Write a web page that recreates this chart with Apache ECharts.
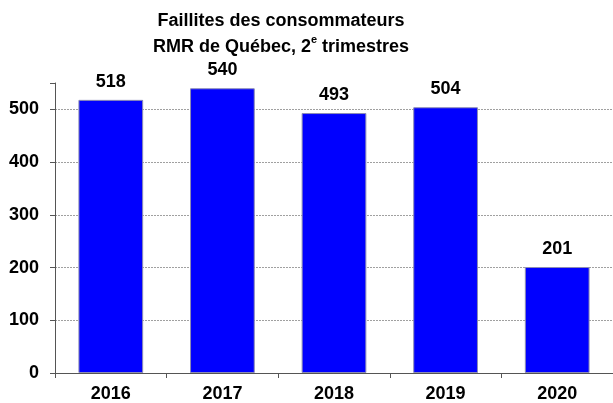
<!DOCTYPE html>
<html>
<head>
<meta charset="utf-8">
<script src="https://cdn.jsdelivr.net/npm/echarts@6/dist/echarts.min.js"></script>
<style>
html,body{margin:0;padding:0;background:#fff;}
#main{width:613px;height:403px;}
</style>
</head>
<body>
<div id="main"></div>
<script>
var years = ['2016', '2017', '2018', '2019', '2020'];
var faillites = [518, 540, 493, 504, 201];
var yTicks = [0, 100, 200, 300, 400, 500];

var chart = echarts.init(document.getElementById('main'));
var font = 'Liberation Sans, Arial, sans-serif';

var option = {
	animation: false,
	title: {
		text: 'Faillites des consommateurs\nRMR de Québec, 2{sup|e} trimestres',
		left: 276,
		top: 3,
		textAlign: 'center',
		textStyle: {
			fontFamily: font,
			fontSize: 18,
			fontWeight: 'bold',
			color: '#000',
			lineHeight: 26,
			rich: {
				sup: {fontFamily: font, fontSize: 11, fontWeight: 'bold', color: '#000', verticalAlign: 'top', lineHeight: 17}
			}
		}
	},
	grid: {left: 55, top: 83, width: 561, bottom: 30, containLabel: false},
	xAxis: {
		type: 'category',
		data: years,
		axisLine: {lineStyle: {color: '#555', width: 1}},
		axisTick: {show: true, length: 5, lineStyle: {color: '#555'}},
		axisLabel: {fontFamily: font, fontSize: 18, fontWeight: 'bold', color: '#000', margin: 12}
	},
	yAxis: {
		type: 'value',
		min: 0,
		max: 550,
		interval: 100,
		axisLine: {show: true, lineStyle: {color: '#555', width: 1}},
		axisTick: {show: true, length: 5, lineStyle: {color: '#555'}},
		axisLabel: {
			fontFamily: font, fontSize: 18, fontWeight: 'bold', color: '#000', margin: 16,
			formatter: function (v) { return yTicks.indexOf(v) >= 0 ? v : ''; }
		},
		splitLine: {
			show: true,
			lineStyle: {color: ['#a0a0a0', '#a0a0a0', '#a0a0a0', '#a0a0a0', '#a0a0a0', '#a0a0a0', 'rgba(0,0,0,0)'], type: [2, 1], width: 1}
		}
	},
	series: [{
		type: 'bar',
		data: faillites,
		barWidth: '58%',
		itemStyle: {color: '#0000ff', borderColor: '#8c8cb4', borderWidth: 1},
		label: {show: true, position: 'top', distance: 9, fontFamily: font, fontSize: 18, fontWeight: 'bold', color: '#000'}
	}]
};

chart.setOption(option);
</script>
</body>
</html>
